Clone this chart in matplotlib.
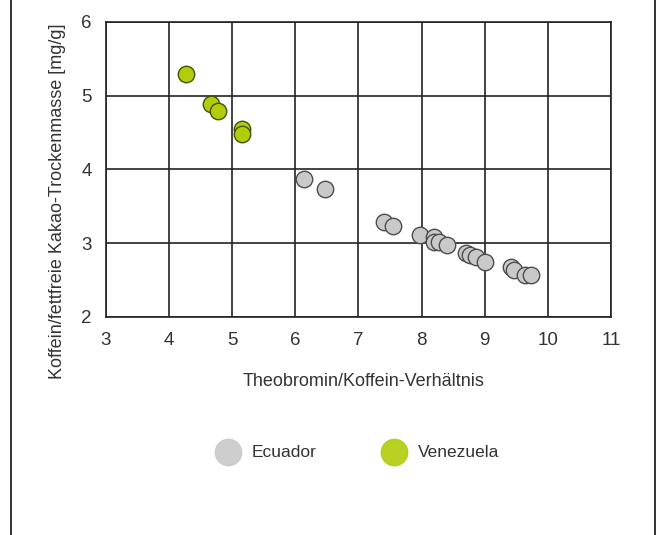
import matplotlib
import matplotlib.pyplot as plt
from matplotlib.lines import Line2D

matplotlib.use("agg")

plt.rcParams["font.family"] = ["Liberation Sans", "DejaVu Sans"]

# Theobromin/Koffein-Verhaeltnis vs. Koffein je fettfreie Trockenmasse
ecuador_ratio = [6.14, 6.47, 7.41, 7.55, 7.98, 8.20, 8.19, 8.28, 8.40,
                 8.71, 8.76, 8.87, 9.00, 9.41, 9.47, 9.64, 9.74]
ecuador_caffeine = [3.87, 3.73, 3.29, 3.23, 3.11, 3.08, 3.02, 3.02, 2.98,
                    2.87, 2.84, 2.82, 2.75, 2.68, 2.64, 2.57, 2.57]
venezuela_ratio = [4.27, 4.66, 4.77, 5.16, 5.16]
venezuela_caffeine = [5.29, 4.89, 4.79, 4.55, 4.48]

x_ticks = [3, 4, 5, 6, 7, 8, 9, 10, 11]
y_ticks = [2, 3, 4, 5, 6]
legend_labels = ["Ecuador", "Venezuela"]

grey = "#c9c9c9"
green = "#b3cc0c"
text_col = "#333333"

fig = plt.figure(figsize=(6.57, 5.35), dpi=100)
ax = fig.add_axes([0.161, 0.4075, 0.769, 0.5515])

ax.scatter(ecuador_ratio, ecuador_caffeine, s=140, color=grey,
           edgecolor="#4d4d4d", linewidth=1.0, zorder=3)
ax.scatter(venezuela_ratio, venezuela_caffeine, s=140, color=green,
           edgecolor="#445200", linewidth=1.0, zorder=3)

ax.set_xlim(3, 11)
ax.set_ylim(2, 6)
ax.set_xticks(x_ticks)
ax.set_yticks(y_ticks)
ax.grid(True, color="#222222", linewidth=1.2)
ax.set_axisbelow(True)
for side in ax.spines.values():
    side.set_color("#222222")
    side.set_linewidth(1.2)
ax.tick_params(axis="x", length=0, labelsize=13.5, colors=text_col, pad=11)
ax.tick_params(axis="y", length=0, labelsize=13.5, colors=text_col, pad=10)

fig.text(0.554, 0.286, "Theobromin/Koffein-Verhältnis", fontsize=13,
         color=text_col, ha="center", va="center")
fig.text(0.087, 0.624, "Koffein/fettfreie Kakao-Trockenmasse [mg/g]",
         fontsize=13, color=text_col, ha="center", va="center", rotation=90)

# legend below the chart, drawn by hand
for lx, label, col in zip([0.347, 0.600], legend_labels, [grey, green]):
    fig.add_artist(Line2D([lx], [0.155], marker="o", markersize=19,
                          markerfacecolor=col, markeredgecolor=col,
                          alpha=0.9))
    fig.text(lx + 0.036, 0.155, label, fontsize=12.5, color=text_col,
             ha="left", va="center")

# side rules of the frame
fig.add_artist(Line2D([0.016, 0.016], [0.0, 1.0], color="#222222", linewidth=1.3))
fig.add_artist(Line2D([0.997, 0.997], [0.0, 1.0], color="#222222", linewidth=1.3))

fig.savefig("out.png", dpi=100)
